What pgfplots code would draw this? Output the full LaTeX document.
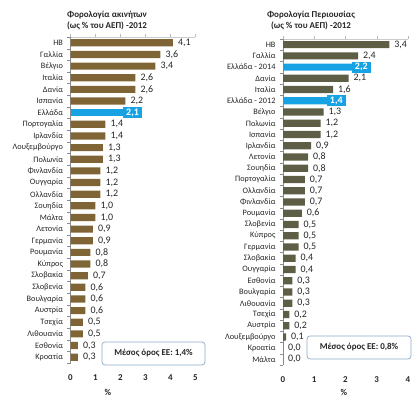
\documentclass[border=0pt]{standalone}
\usepackage{fontspec}
\setmainfont{Carlito}
\usepackage{pgfplots}
\usepackage{pgfplotstable}
\pgfplotsset{compat=1.18}

\definecolor{brownbar}{HTML}{7F6536}
\definecolor{olivebar}{HTML}{5E5E46}
\definecolor{bluebar}{HTML}{17A3E3}
\definecolor{axgray}{HTML}{8C8C8C}
\definecolor{txt}{HTML}{262626}
\definecolor{boxedge}{HTML}{8FAAC8}

\pgfplotstableread{
idx val
0 4.1
1 3.6
2 3.4
3 2.6
4 2.6
5 2.2
7 1.4
8 1.4
9 1.3
10 1.3
11 1.2
12 1.2
13 1.2
14 1.0
15 1.0
16 0.9
17 0.9
18 0.8
19 0.8
20 0.7
21 0.6
22 0.6
23 0.6
24 0.5
25 0.5
26 0.3
27 0.3
}\leftmain
\pgfplotstableread{
idx val
6 2.1
}\leftgr

\pgfplotstableread{
idx val
0 3.4
1 2.4
3 2.1
4 1.6
6 1.3
7 1.2
8 1.2
9 0.9
10 0.8
11 0.8
12 0.7
13 0.7
14 0.7
15 0.6
16 0.5
17 0.5
18 0.5
19 0.4
20 0.4
21 0.3
22 0.3
23 0.3
24 0.2
25 0.2
26 0.1
27 0.0
28 0.0
}\rightmain
\pgfplotstableread{
idx val
2 2.2
5 1.4
}\rightgr

\pgfplotsset{
  /pgf/number format/assume math mode=true,
  mybar/.style={
    scale only axis, width=125bp,
    xbar, bar shift=0pt, bar width=7.2bp,
    y dir=reverse, ymin=-0.5,
    axis line style={draw=none},
    xtick pos=upper, xticklabel pos=lower, ytick pos=lower,
    xtick align=outside, ytick align=outside,
    major tick length=3bp, minor tick length=3bp,
    x tick style={draw=axgray!60},
    y tick style={draw=axgray},
    every major y tick/.style={draw=none},
    xmin=0,
    ytick={0,...,28},
    xticklabel style={font=\fontsize{9}{10}\selectfont\bfseries, text=txt, yshift=-5bp},
    yticklabel style={font=\fontsize{8.3}{10}\selectfont, text=txt, xshift=-1bp},
    point meta=x,
    nodes near coords={\pgfmathprintnumber[use comma,fixed,fixed zerofill,precision=1]{\pgfplotspointmeta}},
    nodes near coords align=horizontal,
    clip=false,
  },
  valstyle/.style={every node near coord/.style={anchor=west, xshift=1.5bp, font=\fontsize{10}{11}\selectfont, text=txt}},
  grstyle/.style={every node near coord/.style={anchor=west, xshift=0pt, font=\fontsize{10}{11}\selectfont\bfseries, text=white, fill=bluebar, inner xsep=3bp, inner ysep=1.5bp}},
}

\begin{document}
\begin{tikzpicture}[x=1bp,y=1bp]
\path[use as bounding box] (0,0) rectangle (418,399);

% Left chart
\begin{axis}[mybar,
  at={(70.5bp,36bp)}, anchor=south west, height=326bp,
  xmax=5, xtick={0,1,2,3,4,5},
  ymax=27.5,
  minor ytick={-0.5,0.5,...,27.5},
  yticklabels={ΗΒ,Γαλλία,Βέλγιο,Ιταλία,Δανία,Ισπανία,Ελλάδα,Πορτογαλία,Ιρλανδία,Λουξεμβούργο,Πολωνία,Φινλανδία,Ουγγαρία,Ολλανδία,Σουηδία,Μάλτα,Λετονία,Γερμανία,Ρουμανία,Κύπρος,Σλοβακία,Σλοβενία,Βουλγαρία,Αυστρία,Τσεχία,Λιθουανία,Εσθονία,Κροατία},
]
\draw[axgray!45, line width=0.5pt] (axis cs:0,-0.5) -- (axis cs:5,-0.5);
\draw[axgray, line width=0.6pt] (axis cs:0,-0.5) -- (axis cs:0,27.5);
\addplot[fill=brownbar, draw=none, valstyle] table[x=val, y=idx] {\leftmain};
\addplot[fill=bluebar, draw=none, grstyle] table[x=val, y=idx] {\leftgr};
\end{axis}

% Right chart
\begin{axis}[mybar,
  at={(283bp,34bp)}, anchor=south west, height=326bp,
  xmax=4, xtick={0,1,2,3,4},
  ymax=28.5,
  minor ytick={-0.5,0.5,...,28.5},
  yticklabels={ΗΒ,Γαλλία,Ελλάδα - 2014,Δανία,Ιταλία,Ελλάδα - 2012,Βέλγιο,Πολωνία,Ισπανία,Ιρλανδία,Λετονία,Σουηδία,Πορτογαλία,Ολλανδία,Φινλανδία,Ρουμανία,Σλοβενία,Κύπρος,Γερμανία,Σλοβακία,Ουγγαρία,Εσθονία,Βουλγαρία,Λιθουανία,Τσεχία,Αυστρία,Λουξεμβούργο,Κροατία,Μάλτα},
]
\draw[axgray!45, line width=0.5pt] (axis cs:0,-0.5) -- (axis cs:4,-0.5);
\draw[axgray, line width=0.6pt] (axis cs:0,-0.5) -- (axis cs:0,28.5);
\addplot[fill=olivebar, draw=none, valstyle] table[x=val, y=idx] {\rightmain};
\addplot[fill=bluebar, draw=none, grstyle] table[x=val, y=idx] {\rightgr};
\end{axis}

% Titles
\node[font=\fontsize{9}{11}\selectfont\bfseries, text=txt, align=center] at (107,378.5) {Φορολογία ακινήτων\\(ως \% του ΑΕΠ) -2012};
\node[font=\fontsize{9}{11}\selectfont\bfseries, text=txt, align=center] at (311,378.5) {Φορολογία Περιουσίας\\(ως \% του ΑΕΠ) -2012};

% axis titles
\node[font=\fontsize{9}{10}\selectfont\bfseries, text=txt] at (108,7) {\%};
\node[font=\fontsize{9}{10}\selectfont\bfseries, text=txt] at (344,7) {\%};

% average boxes
\node[draw=boxedge, line width=0.7pt, rounded corners=3bp, fill=white, minimum width=103bp, minimum height=23bp, font=\fontsize{9}{10}\selectfont\bfseries, text=txt] at (153.5,45.5) {Μέσος όρος ΕΕ: 1,4\%};
\node[draw=boxedge, line width=0.7pt, rounded corners=3bp, fill=white, minimum width=104bp, minimum height=23bp, font=\fontsize{9}{10}\selectfont\bfseries, text=txt] at (359,51.5) {Μέσος όρος ΕΕ: 0,8\%};
\end{tikzpicture}
\end{document}
